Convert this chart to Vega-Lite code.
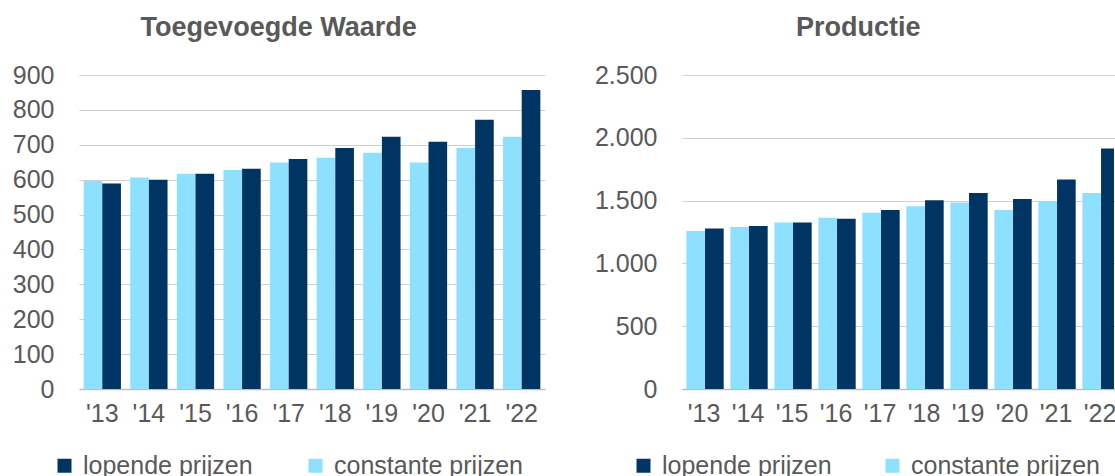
{
  "$schema": "https://vega.github.io/schema/vega-lite/v6.json",
  "background": "white",
  "padding": {"left": 12, "top": 14, "right": 0, "bottom": 0},
  "config": {
    "locale": {"number": {"decimal": ",", "thousands": ".", "grouping": [3], "currency": ["€", ""]}},
    "font": "Liberation Sans",
    "view": {"stroke": null},
    "concat": {"spacing": 137},
    "title": {"font": "Liberation Sans", "fontSize": 27, "fontWeight": "bold", "color": "#595959", "anchor": "middle", "frame": "bounds", "offset": 21},
    "axis": {"labelFont": "Liberation Sans", "labelFontSize": 25, "labelColor": "#595959", "ticks": false, "title": null},
    "legend": {"labelFont": "Liberation Sans", "labelFontSize": 25, "labelColor": "#595959", "labelLimit": 0}
  },
  "bounds": "flush",
  "data": {"values": [
    {"panel": "TW", "year": "'13", "type": "constante prijzen", "value": 596},
    {"panel": "TW", "year": "'13", "type": "lopende prijzen", "value": 589},
    {"panel": "TW", "year": "'14", "type": "constante prijzen", "value": 606},
    {"panel": "TW", "year": "'14", "type": "lopende prijzen", "value": 600},
    {"panel": "TW", "year": "'15", "type": "constante prijzen", "value": 617},
    {"panel": "TW", "year": "'15", "type": "lopende prijzen", "value": 617},
    {"panel": "TW", "year": "'16", "type": "constante prijzen", "value": 628},
    {"panel": "TW", "year": "'16", "type": "lopende prijzen", "value": 631},
    {"panel": "TW", "year": "'17", "type": "constante prijzen", "value": 649},
    {"panel": "TW", "year": "'17", "type": "lopende prijzen", "value": 659},
    {"panel": "TW", "year": "'18", "type": "constante prijzen", "value": 663},
    {"panel": "TW", "year": "'18", "type": "lopende prijzen", "value": 691},
    {"panel": "TW", "year": "'19", "type": "constante prijzen", "value": 677},
    {"panel": "TW", "year": "'19", "type": "lopende prijzen", "value": 723},
    {"panel": "TW", "year": "'20", "type": "constante prijzen", "value": 649},
    {"panel": "TW", "year": "'20", "type": "lopende prijzen", "value": 709},
    {"panel": "TW", "year": "'21", "type": "constante prijzen", "value": 691},
    {"panel": "TW", "year": "'21", "type": "lopende prijzen", "value": 772},
    {"panel": "TW", "year": "'22", "type": "constante prijzen", "value": 723},
    {"panel": "TW", "year": "'22", "type": "lopende prijzen", "value": 857},
    {"panel": "P", "year": "'13", "type": "constante prijzen", "value": 1257},
    {"panel": "P", "year": "'13", "type": "lopende prijzen", "value": 1278},
    {"panel": "P", "year": "'14", "type": "constante prijzen", "value": 1289},
    {"panel": "P", "year": "'14", "type": "lopende prijzen", "value": 1297},
    {"panel": "P", "year": "'15", "type": "constante prijzen", "value": 1326},
    {"panel": "P", "year": "'15", "type": "lopende prijzen", "value": 1326},
    {"panel": "P", "year": "'16", "type": "constante prijzen", "value": 1364},
    {"panel": "P", "year": "'16", "type": "lopende prijzen", "value": 1356},
    {"panel": "P", "year": "'17", "type": "constante prijzen", "value": 1404},
    {"panel": "P", "year": "'17", "type": "lopende prijzen", "value": 1425},
    {"panel": "P", "year": "'18", "type": "constante prijzen", "value": 1455},
    {"panel": "P", "year": "'18", "type": "lopende prijzen", "value": 1503},
    {"panel": "P", "year": "'19", "type": "constante prijzen", "value": 1484},
    {"panel": "P", "year": "'19", "type": "lopende prijzen", "value": 1561},
    {"panel": "P", "year": "'20", "type": "constante prijzen", "value": 1425},
    {"panel": "P", "year": "'20", "type": "lopende prijzen", "value": 1513},
    {"panel": "P", "year": "'21", "type": "constante prijzen", "value": 1495},
    {"panel": "P", "year": "'21", "type": "lopende prijzen", "value": 1668},
    {"panel": "P", "year": "'22", "type": "constante prijzen", "value": 1561},
    {"panel": "P", "year": "'22", "type": "lopende prijzen", "value": 1914}
  ]},
  "resolve": {"legend": {"color": "independent"}, "scale": {"color": "independent"}},
  "hconcat": [
    {
      "title": "Toegevoegde Waarde",
      "width": 466,
      "height": 314,
      "transform": [{"filter": "datum.panel === 'TW'"}],
      "mark": {"type": "bar"},
      "encoding": {
        "x": {"field": "year", "type": "nominal", "sort": null,
              "scale": {"paddingInner": 0.2, "paddingOuter": 0.1},
              "axis": {"labelAngle": 0, "labelPadding": 12, "domain": true, "domainColor": "#BFBFBF", "domainWidth": 1.5, "grid": false}},
        "xOffset": {"field": "type", "type": "nominal", "scale": {"domain": ["constante prijzen", "lopende prijzen"], "paddingInner": 0}},
        "y": {"field": "value", "type": "quantitative",
              "scale": {"domain": [0, 900], "nice": false},
              "axis": {"values": [0, 100, 200, 300, 400, 500, 600, 700, 800, 900], "domain": false, "grid": true, "gridColor": "#D0D0D0", "gridWidth": 1.2, "labelPadding": 25}},
        "color": {"field": "type", "type": "nominal",
                  "scale": {"domain": ["lopende prijzen", "constante prijzen"], "range": ["#003462", "#8DE0FE"]},
                  "legend": {"orient": "none", "direction": "horizontal", "legendX": -27, "legendY": 378, "title": null, "symbolType": "square", "symbolSize": 196, "symbolStrokeWidth": 0, "labelOffset": 6, "columnPadding": 50, "padding": 0}}
      }
    },
    {
      "title": "Productie",
      "width": 432,
      "height": 314,
      "transform": [{"filter": "datum.panel === 'P'"}],
      "mark": {"type": "bar", "clip": true},
      "encoding": {
        "x": {"field": "year", "type": "nominal", "sort": null,
              "scale": {"paddingInner": 0.2, "paddingOuter": 0.1, "range": [0, 440]},
              "axis": {"labelAngle": 0, "labelPadding": 12, "domain": true, "domainColor": "#BFBFBF", "domainWidth": 1.5, "grid": false}},
        "xOffset": {"field": "type", "type": "nominal", "scale": {"domain": ["constante prijzen", "lopende prijzen"], "paddingInner": 0}},
        "y": {"field": "value", "type": "quantitative",
              "scale": {"domain": [0, 2500], "nice": false},
              "axis": {"values": [0, 500, 1000, 1500, 2000, 2500], "format": ",d", "domain": false, "grid": true, "gridColor": "#D0D0D0", "gridWidth": 1.2, "labelPadding": 25}},
        "color": {"field": "type", "type": "nominal",
                  "scale": {"domain": ["lopende prijzen", "constante prijzen"], "range": ["#003462", "#8DE0FE"]},
                  "legend": {"orient": "none", "direction": "horizontal", "legendX": -51, "legendY": 378, "title": null, "symbolType": "square", "symbolSize": 196, "symbolStrokeWidth": 0, "labelOffset": 6, "columnPadding": 48, "padding": 0}}
      }
    }
  ]
}
